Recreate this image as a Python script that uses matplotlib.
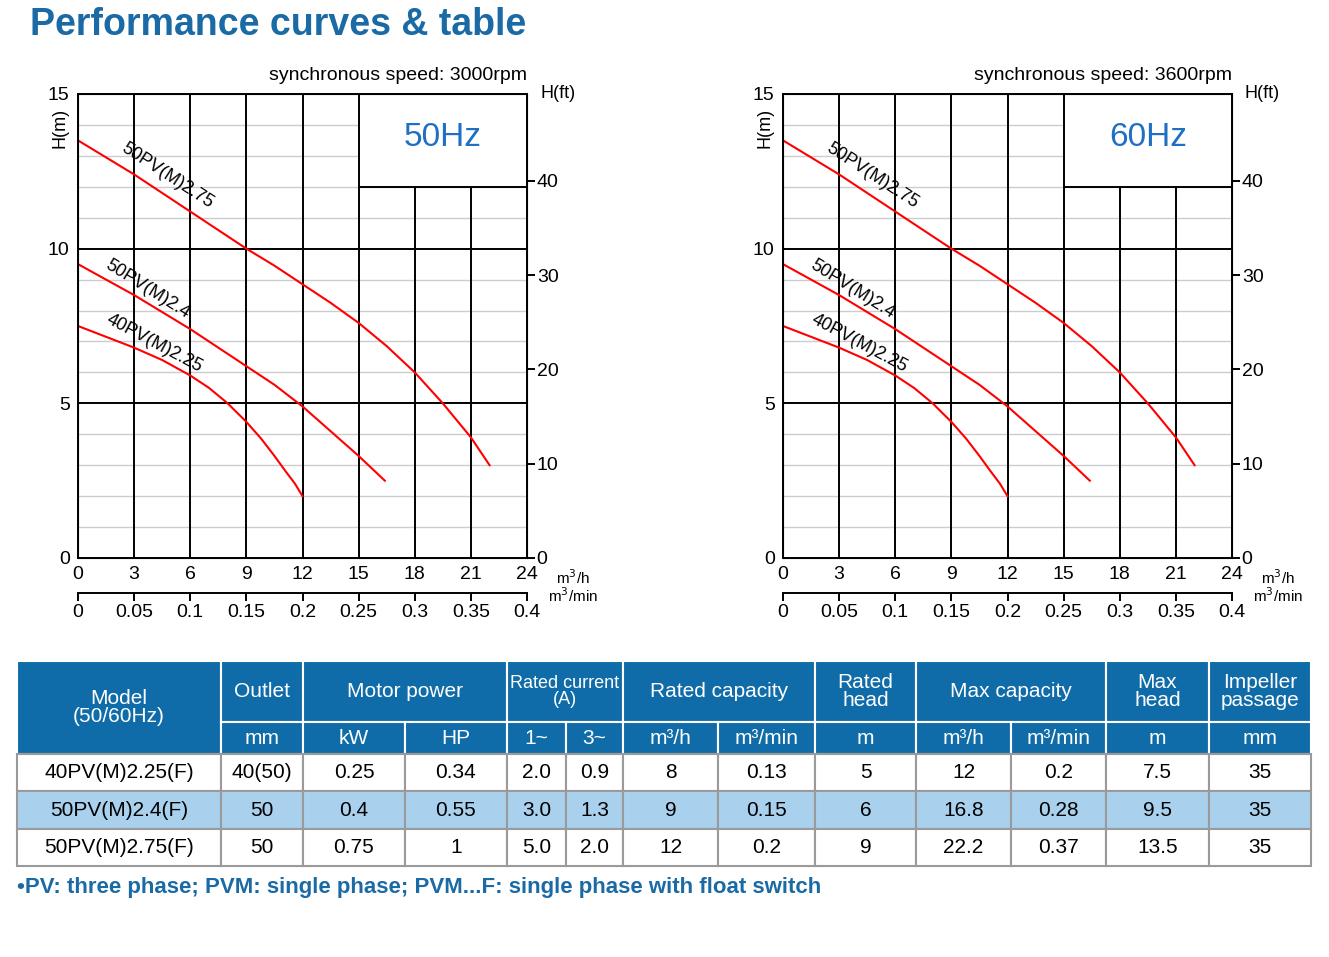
import matplotlib.pyplot as plt
from matplotlib.patches import Rectangle

plt.rcParams['font.family'] = ['Liberation Sans', 'DejaVu Sans']

W, H = 1329, 957
BLUE = '#1a6aa5'

# curve data (Q m3/h, H m), same for both panels as drawn
q_225 = [0, 1.5, 3, 4.5, 6, 7, 8, 9, 9.8, 10.5, 11.1, 11.6, 12]
h_225 = [7.5, 7.15, 6.8, 6.4, 5.9, 5.5, 5.0, 4.4, 3.85, 3.3, 2.8, 2.4, 2.0]
q_24 = [0, 1.5, 3, 4.5, 6, 7.5, 9, 10.5, 12, 13.5, 15, 16.4]
h_24 = [9.5, 9.0, 8.5, 7.95, 7.4, 6.8, 6.2, 5.6, 4.9, 4.1, 3.3, 2.5]
q_275 = [0, 1.5, 3, 4.5, 6, 7.5, 9, 10.5, 12, 13.5, 15, 16.5, 18, 19.5, 21, 22]
h_275 = [13.5, 12.95, 12.4, 11.8, 11.2, 10.6, 10.0, 9.45, 8.85, 8.25, 7.6, 6.85, 6.0, 5.0, 3.9, 3.0]
curves = [('50PV(M)2.75', q_275, h_275), ('50PV(M)2.4', q_24, h_24), ('40PV(M)2.25', q_225, h_225)]
label_pos = [(4.8, 12.35, -33), (3.7, 8.7, -32), (4.1, 6.95, -28)]

panels = [('50Hz', 'synchronous speed: 3000rpm', 78), ('60Hz', 'synchronous speed: 3600rpm', 783)]

# table data
units = ['mm', 'kW', 'HP', '1~', '3~', 'm³/h', 'm³/min', 'm', 'm³/h', 'm³/min', 'm', 'mm']
rows = [
    ['40PV(M)2.25(F)', '40(50)', '0.25', '0.34', '2.0', '0.9', '8', '0.13', '5', '12', '0.2', '7.5', '35'],
    ['50PV(M)2.4(F)', '50', '0.4', '0.55', '3.0', '1.3', '9', '0.15', '6', '16.8', '0.28', '9.5', '35'],
    ['50PV(M)2.75(F)', '50', '0.75', '1', '5.0', '2.0', '12', '0.2', '9', '22.2', '0.37', '13.5', '35'],
]
col_x = [17, 221, 303, 405, 507, 566, 623, 718, 815, 916, 1011, 1106, 1209, 1311]
top_heads = [('Model\n(50/60Hz)', 0, 1), ('Outlet', 1, 2), ('Motor power', 2, 4), ('Rated current\n(A)', 4, 6),
             ('Rated capacity', 6, 8), ('Rated\nhead', 8, 9), ('Max capacity', 9, 11), ('Max\nhead', 11, 12),
             ('Impeller\npassage', 12, 13)]

fig = plt.figure(figsize=(W / 100, H / 100), dpi=100)


def fx(x):
    return x / W


def fy(y):
    return 1 - y / H


fig.text(fx(30), fy(25), 'Performance curves & table', color=BLUE, fontsize=27,
         fontweight='bold', va='center', ha='left')

for hz, speed, x0 in panels:
    ax = fig.add_axes([fx(x0), fy(558), 449 / W, 464 / H])
    ax.set_xlim(0, 24)
    ax.set_ylim(0, 15)
    for y in range(1, 15):
        if y % 5 == 0:
            continue
        ax.plot([0, 15 if y > 12 else 24], [y, y], color='#cccccc', lw=1.0, zorder=1)
    for y in (5, 10):
        ax.plot([0, 24], [y, y], color='black', lw=1.4, zorder=2)
    ax.plot([15, 24], [12, 12], color='black', lw=1.4, zorder=2)
    for x in range(3, 24, 3):
        ax.plot([x, x], [0, 15 if x <= 15 else 12], color='black', lw=1.4, zorder=2)
    ax.text(19.5, 13.6, hz, color='#1f6fc5', fontsize=24, ha='center', va='center')
    for (name, q, h), (lx, ly, rot) in zip(curves, label_pos):
        ax.plot(q, h, color='red', lw=1.5, zorder=3)
        ax.text(lx, ly, name, rotation=rot, fontsize=13, ha='center', va='center',
                rotation_mode='anchor', zorder=4)
    ax.set_xticks(range(0, 25, 3))
    ax.set_yticks([0, 5, 10, 15])
    ax.tick_params(length=0, labelsize=14, pad=6)
    for s in ax.spines.values():
        s.set_linewidth(1.4)
    axr = ax.twinx()
    axr.set_ylim(0, 15 / 0.3048)
    axr.set_yticks([0, 10, 20, 30, 40])
    axr.tick_params(labelsize=14, length=6, width=1.4, pad=1)
    axb = ax.twiny()
    axb.set_xlim(0, 0.4)
    axb.set_xticks([0, 0.05, 0.1, 0.15, 0.2, 0.25, 0.3, 0.35, 0.4])
    axb.set_xticklabels(['0', '0.05', '0.1', '0.15', '0.2', '0.25', '0.3', '0.35', '0.4'])
    axb.xaxis.set_ticks_position('bottom')
    axb.xaxis.set_label_position('bottom')
    axb.spines['bottom'].set_position(('outward', 25))
    axb.spines['bottom'].set_linewidth(1.4)
    for k in ('top', 'left', 'right'):
        axb.spines[k].set_visible(False)
    axb.tick_params(labelsize=14, length=6, width=1.4, pad=2)
    fig.text(fx(x0 + 449), fy(75), speed, fontsize=14, ha='right', va='center')
    fig.text(fx(x0 + 462), fy(94), 'H(ft)', fontsize=13, ha='left', va='center')
    fig.text(fx(x0 - 18), fy(128), 'H(m)', fontsize=13, ha='center', va='center', rotation=90)
    fig.text(fx(x0 + 495), fy(578), 'm$^3$/h', fontsize=11, ha='center', va='center')
    fig.text(fx(x0 + 495), fy(596), 'm$^3$/min', fontsize=11, ha='center', va='center')


def cell(x1, x2, y1, y2, txt, fc, color, size=14):
    fig.patches.append(Rectangle((fx(x1), fy(y2)), fx(x2) - fx(x1), fy(y1) - fy(y2),
                                 transform=fig.transFigure, facecolor=fc,
                                 edgecolor='#9a9a9a' if fc in ('white', '#a9d1ee') else 'white',
                                 lw=1.5))
    fig.text(fx((x1 + x2) / 2), fy((y1 + y2) / 2), txt, color=color, fontsize=size,
             ha='center', va='center', linespacing=1.0)


HEAD = '#0f6ca8'
for txt, a, b in top_heads:
    y2 = 754 if a == 0 else 722
    cell(col_x[a], col_x[b], 661, y2, txt, HEAD, 'white', 15 if a != 4 else 13)
for i, u in enumerate(units):
    cell(col_x[i + 1], col_x[i + 2], 722, 754, u, HEAD, 'white', 15)
row_y = [754, 791, 829, 866]
for r, row in enumerate(rows):
    fc = '#a9d1ee' if r == 1 else 'white'
    for i, v in enumerate(row):
        cell(col_x[i], col_x[i + 1], row_y[r], row_y[r + 1], v, fc, 'black', 15)

fig.text(fx(17), fy(887), '•PV: three phase; PVM: single phase; PVM...F: single phase with float switch',
         color=BLUE, fontsize=16, fontweight='bold', ha='left', va='center')

fig.savefig('out.png', dpi=100)
